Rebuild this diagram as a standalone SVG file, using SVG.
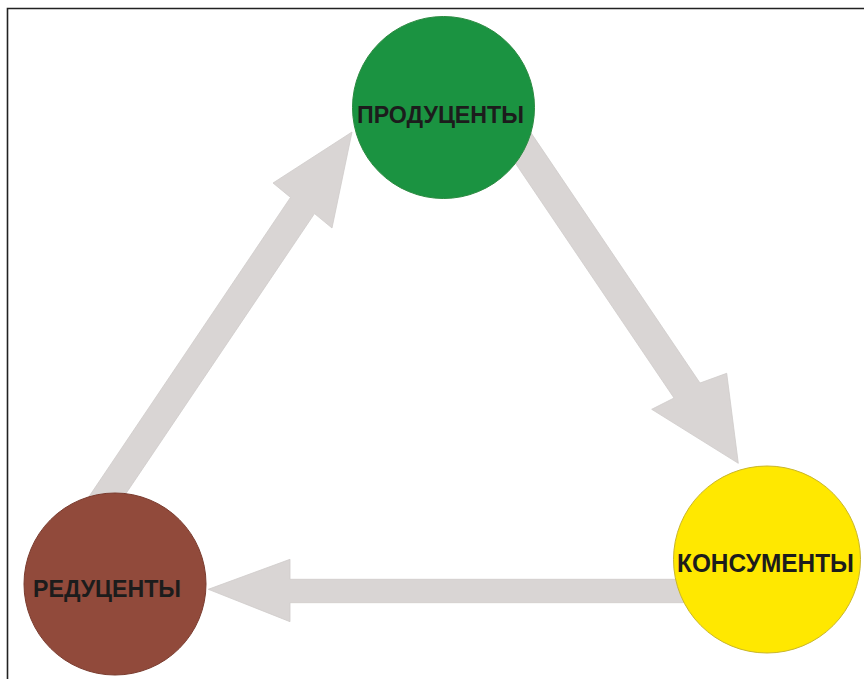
<svg xmlns="http://www.w3.org/2000/svg" width="864" height="679" viewBox="0 0 864 679">
  <style>
    .arrow { fill: #d9d5d4; stroke: #cfcbca; stroke-width: 0.8; stroke-linejoin: miter; }
    .label { font-family: "Liberation Sans", Arial, sans-serif; font-weight: bold; fill: #1c1c1c; text-anchor: middle; }
  </style>
  <rect x="0" y="0" width="864" height="679" fill="#ffffff"/>
  <path d="M7.5 679 V8.5 H864" fill="none" stroke="#222222" stroke-width="1.6"/>
  <g id="connectors">
    <polygon class="arrow" points="78.7,511.9 290.5,197.4 273,183 352,132 332,228 314.5,213.6 102.7,528.1"/>
    <polygon class="arrow" points="496.6,135.4 674,398 651.7,409.3 738.3,463.3 726.7,373.3 700,383 521.4,118.6"/>
    <polygon class="arrow" points="700,579.3 290,579.3 290,559.3 208.3,589.3 290,621.7 290,602.7 700,602.7"/>
  </g>
  <g id="producers">
    <circle cx="443.5" cy="107.5" r="91" fill="#1b9341" stroke="#2a8a40" stroke-width="1"/>
    <text class="label" x="440.5" y="123" font-size="24" textLength="167" lengthAdjust="spacingAndGlyphs">ПРОДУЦЕНТЫ</text>
  </g>
  <g id="consumers">
    <circle cx="767" cy="559.5" r="93.5" fill="#ffe800" stroke="#c9b62a" stroke-width="1"/>
    <text class="label" x="765.5" y="572" font-size="25" textLength="177" lengthAdjust="spacingAndGlyphs">КОНСУМЕНТЫ</text>
  </g>
  <g id="reducers">
    <circle cx="115" cy="584" r="91" fill="#914a3b" stroke="#7a3b2e" stroke-width="1"/>
    <text class="label" x="107" y="597" font-size="24" textLength="148" lengthAdjust="spacingAndGlyphs">РЕДУЦЕНТЫ</text>
  </g>
</svg>
